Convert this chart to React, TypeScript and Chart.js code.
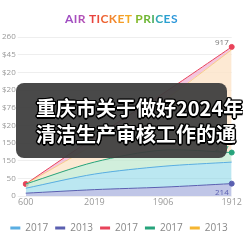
import React, { useEffect, useRef } from "react";
import { Chart, registerables } from "chart.js";

Chart.register(...registerables);

const categories = ["600", "2019", "1906", "1912"];
const yTickLabels = ["0", "50", "150", "150", "$20", "$76", "$20", "$20", "$45", "260"];
const legendNames = ["2017", "2013", "2017", "2017", "2013"];

// stacked increments (bottom -> top: indigo, light blue, green, yellow, red)
const seriesLightBlue = [14, 44, 59, 61];
const seriesIndigo = [8, 18, 25, 35];
const seriesRed = [0, 20, 22, 8];
const seriesGreen = [12, 34, 46, 27];
const seriesYellow = [0, 50, 138, 291];

const lastLabels = ["", "214", "917", "217", ""];

const titleLetters = [
  ["A", "#a04ec2"], ["I", "#a64fbe"], ["R", "#b14fb6"], [" ", "#fff"],
  ["T", "#e8433f"], ["I", "#ea4d3b"], ["C", "#ee6535"], ["K", "#f2862d"], ["E", "#f49c28"], ["T", "#f5ab25"], [" ", "#fff"],
  ["P", "#82b92a"], ["R", "#6db635"], ["I", "#4aae62"], ["C", "#2fa7b8"], ["E", "#2ba0d2"], ["S", "#2f98da"],
];

export default function App() {
  const ref = useRef<HTMLCanvasElement | null>(null);
  useEffect(() => {
    const labelPlugin = {
      id: "lastLabels",
      afterDatasetsDraw(chart: any) {
        const ctx = chart.ctx;
        ctx.save();
        ctx.font = "8px 'Open Sans', sans-serif";
        ctx.textAlign = "right";
        chart.data.datasets.forEach((ds: any, i: number) => {
          const txt = lastLabels[i];
          if (!txt) return;
          const meta = chart.getDatasetMeta(i);
          const pt = meta.data[meta.data.length - 1];
          ctx.fillStyle = ds.labelColor;
          const dy = ds.labelBelow ? 9 : -4;
          ctx.fillText(txt, pt.x - 3, pt.y + dy);
        });
        ctx.restore();
      },
    };
    const chart = new Chart(ref.current as HTMLCanvasElement, {
      type: "line",
      data: {
        labels: categories,
        datasets: [
          {
            label: legendNames[0], data: seriesLightBlue, order: 1,
            borderColor: "#5aaee2", backgroundColor: "rgba(120,208,228,0.5)",
            fill: "stack", borderWidth: 1, pointRadius: 0, tension: 0.3,
          },
          {
            label: legendNames[1], data: seriesIndigo, order: 0,
            borderColor: "#5a5fb0", backgroundColor: "rgba(150,160,215,0.6)",
            fill: "origin", borderWidth: 1, pointRadius: [0, 0, 0, 2.5], pointBackgroundColor: "#5a5fb0",
            labelColor: "#5a5fb0", labelBelow: true, tension: 0.3,
          },
          {
            label: legendNames[2], data: seriesRed, order: 4,
            borderColor: "#e8435a", backgroundColor: "rgba(238,160,200,0.6)",
            fill: "stack", borderWidth: 1, pointRadius: [2.5, 0, 0, 2.5], pointBackgroundColor: "#e8435a",
            labelColor: "#777", tension: 0.2,
          },
          {
            label: legendNames[3], data: seriesGreen, order: 2,
            borderColor: "#26a37b", backgroundColor: "rgba(190,232,205,0.7)",
            fill: "stack", borderWidth: 1, pointRadius: [0, 0, 0, 2.5], pointBackgroundColor: "#26a37b",
            labelColor: "#26a37b", tension: 0.3,
          },
          {
            label: legendNames[4], data: seriesYellow, order: 3,
            borderColor: "#f5b531", backgroundColor: "rgba(252,228,200,0.8)",
            fill: "stack", borderWidth: 0.5, pointRadius: 0, tension: 0.2,
          },
        ] as any,
      },
      options: {
        animation: false,
        responsive: false,
        maintainAspectRatio: false,
        layout: { padding: { top: 37, right: 5, left: 0, bottom: 0 } },
        scales: {
          x: {
            grid: { display: false, drawTicks: false },
            border: { display: false },
            ticks: { color: "#999", font: { size: 9, family: "'Open Sans', sans-serif" }, padding: 1, maxRotation: 0 },
          },
          y: {
            stacked: true,
            min: 0, max: 450,
            border: { display: false },
            grid: { color: "#eeeeee", lineWidth: 1 },
            ticks: {
              stepSize: 50, color: "#999", padding: 2,
              font: { size: 8, family: "'Open Sans', sans-serif" },
              callback: (_v: any, i: number) => yTickLabels[i],
            },
          },
        },
        plugins: {
          title: { display: false },
          tooltip: { enabled: false },
          legend: {
            position: "bottom",
            title: { display: true, text: " ", font: { size: 1 }, padding: { top: 0, bottom: 6 } },
            labels: {
              sort: (a: any, b: any) => a.datasetIndex - b.datasetIndex,
              boxWidth: 10, boxHeight: 3, padding: 7, color: "#888",
              font: { size: 10, family: "'Open Sans', sans-serif" },
              generateLabels: (ch: any) =>
                ch.data.datasets.map((ds: any, i: number) => ({
                  text: ds.label, fillStyle: ds.borderColor, strokeStyle: ds.borderColor,
                  lineWidth: 0, datasetIndex: i, hidden: false, fontColor: "#888",
                })),
            },
          },
        },
      },
      plugins: [labelPlugin],
    } as any);
    return () => chart.destroy();
  }, []);

  const outline = "#000";
  const shadow = [
    `1.5px 0 0 ${outline}`, `-1.5px 0 0 ${outline}`, `0 1.5px 0 ${outline}`, `0 -1.5px 0 ${outline}`,
    `1px 1px 0 ${outline}`, `-1px -1px 0 ${outline}`, `1px -1px 0 ${outline}`, `-1px 1px 0 ${outline}`,
  ].join(",");

  return (
    <div style={{ position: "fixed", left: 0, top: 0, width: 243, height: 243, background: "#fff", overflow: "hidden" }}>
      <canvas ref={ref} width={243} height={243} style={{ position: "absolute", left: 0, top: 0, width: 243, height: 243 }} />
      <div style={{ position: "absolute", left: 0, top: 11, width: 243, textAlign: "center", fontFamily: "Lato, 'Open Sans', sans-serif", fontWeight: 700, fontSize: 12, letterSpacing: 0.4, lineHeight: "16px", whiteSpace: "pre" }}>
        {titleLetters.map(([ch, c], i) => (
          <span key={i} style={{ color: c }}>{ch}</span>
        ))}
      </div>
      <div style={{ position: "absolute", left: 16, top: 83, width: 211, height: 75, borderRadius: 8, background: "rgba(62,62,62,0.94)" }} />
      <div style={{ position: "absolute", left: 36, top: 95, whiteSpace: "nowrap", color: "#fff", fontFamily: "'Noto Sans CJK SC', sans-serif", fontWeight: 700, fontSize: 20, lineHeight: "26px", textShadow: shadow }}>
        <div>重庆市关于做好2024年</div>
        <div>清洁生产审核工作的通</div>
      </div>
    </div>
  );
}
